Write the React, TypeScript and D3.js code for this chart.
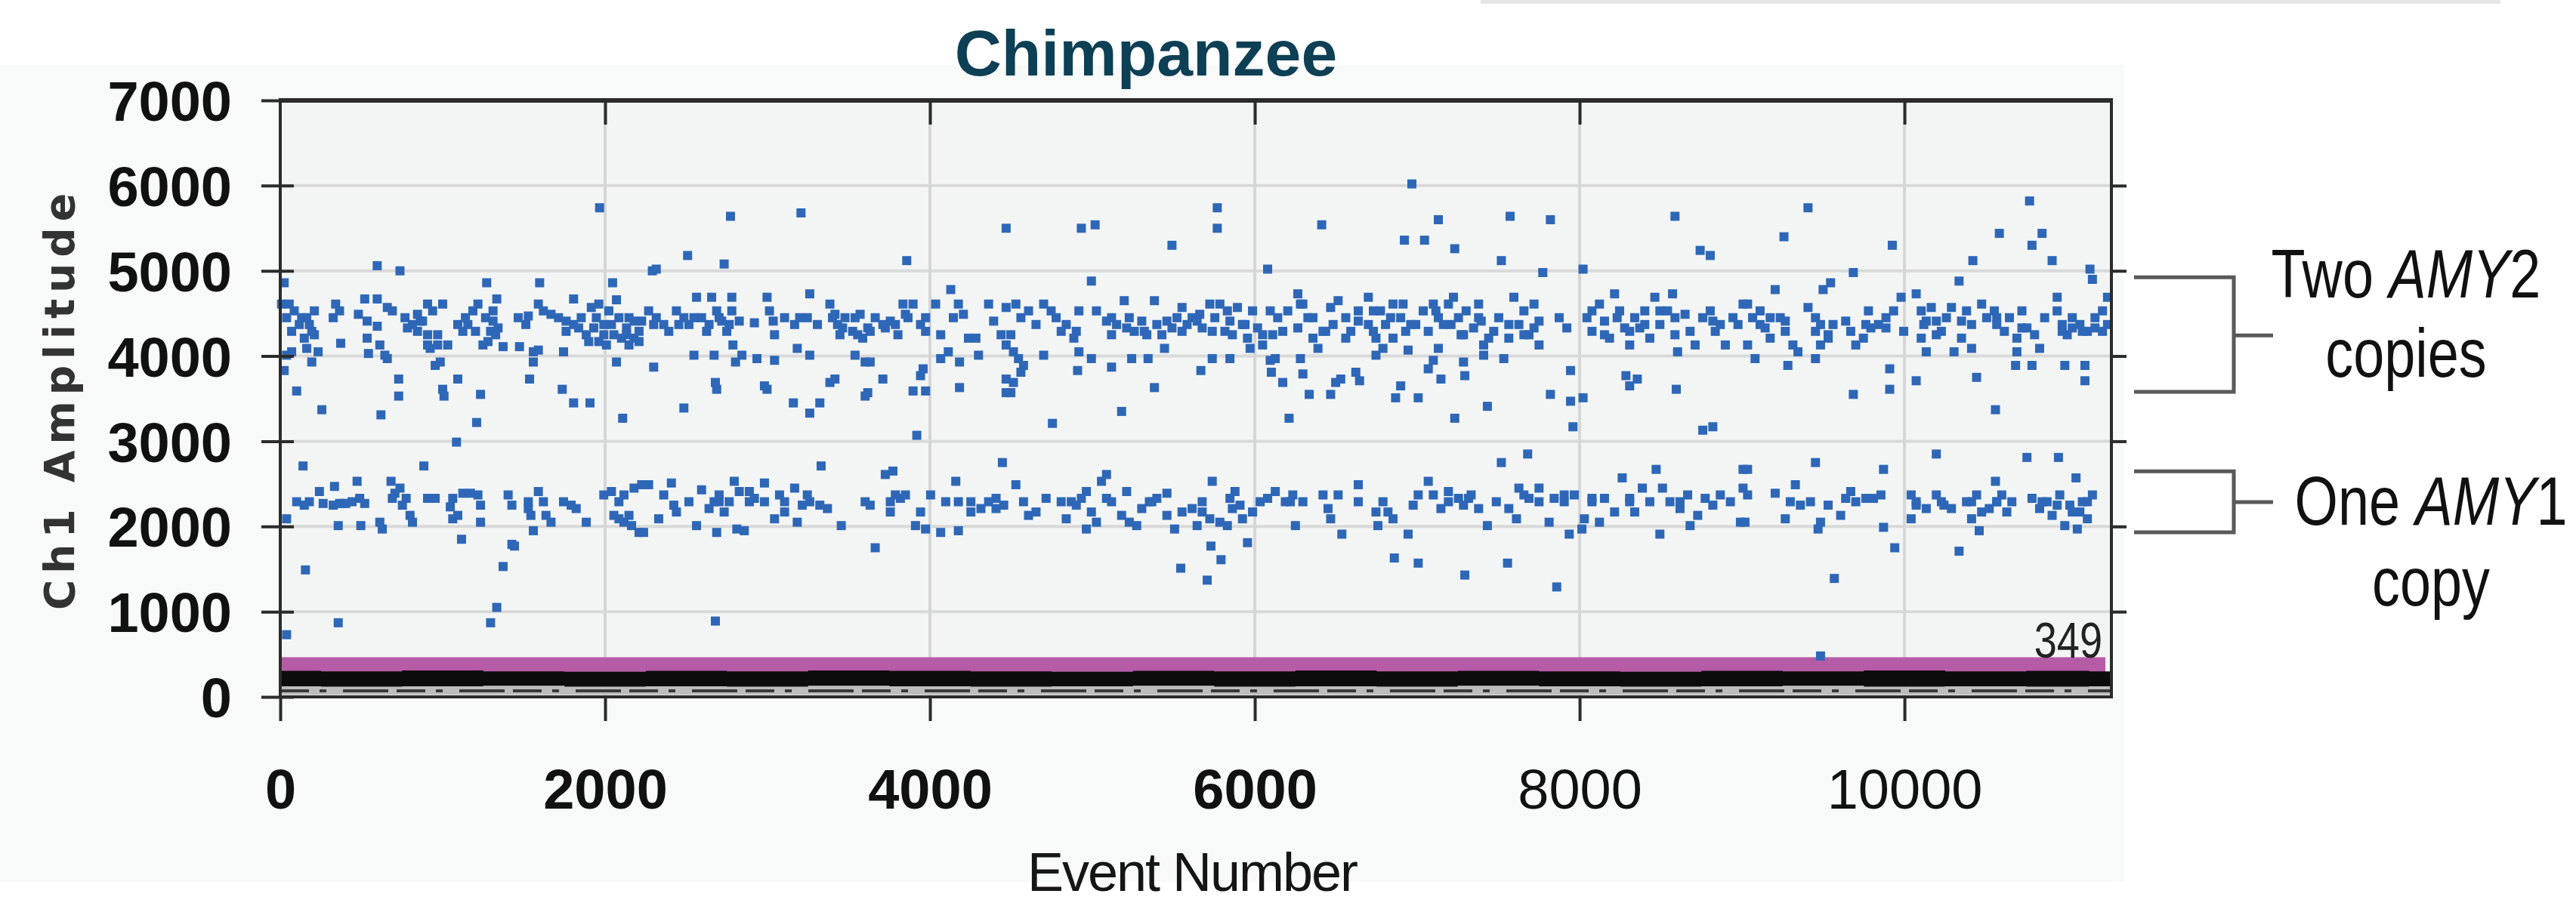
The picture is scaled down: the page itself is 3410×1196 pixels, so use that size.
import { useRef, useEffect } from 'react';
import * as d3 from 'd3';

const W = 3410;
const H = 1196;

const X_TICKS = [0, 2000, 4000, 6000, 8000, 10000];
const Y_TICKS = [0, 1000, 2000, 3000, 4000, 5000, 6000, 7000];
const X_MAX = 11274;
const Y_MAX = 7000;
const THRESHOLD = 349;

// positive droplets, AMY2 cluster + rain above/below it  [event, amplitude]
const dropsHigh: [number, number][] = [
  [1966,5740],[597,5060],[737,5000],[1271,4860],[1597,4860],[2046,4860],
  [24,4860],[8,4610],[39,4450],[86,4530],[117,4370],[163,4450],[194,4290],[210,4530],[148,4210],[163,4090],[70,4050],[39,4010],
  [24,3830],[101,3590],[194,3930],[233,4050],[256,3370],
  [341,4610],[326,4450],[365,4530],[372,4150],
  [481,4490],[520,4670],[597,4670],[535,4410],[597,4350],[659,4570],[690,4530],
  [535,4210],[543,4030],[613,4130],[644,4010],[659,3970],
  [729,3730],[729,3530],[620,3310],
  [768,4450],[814,4370],[861,4410],[907,4610],[845,4290],[907,4250],[923,4090],[969,4130],[1031,4130],[1000,4610],[938,4530],[954,3890],[985,3930],
  [1000,3610],[1008,3530],[1093,3730],
  [1233,3550],[1209,3220],[1085,2990],
  [1093,4370],[1140,4450],[1186,4530],[1217,4610],[1124,4290],[1264,4450],[1310,4410],[1333,4670],[1295,4290],[1341,4330],[1248,4130],[1279,4170],[1372,4110],[1473,4110],
  [1465,4450],[1512,4370],[1527,4470],
  [1558,4050],[1589,4070],[1558,3930],[1535,3730],
  [1589,4610],[1620,4530],[1667,4490],[1713,4450],[1760,4410],[1806,4670],[1806,4370],[1760,4290],[1837,4330],[1884,4250],[1915,4570],[1961,4610],[1946,4450],[1992,4370],[2023,4530],[2070,4660],[2085,4450],[2132,4330],[2178,4410],[2209,4290],[2209,4170],[2147,4130],[2101,4210],[1961,4170],[2054,4250],
  [1744,4050],[1736,3610],[1806,3450],[1907,3450],[2070,3930],[2108,3270],

  [2772,5640],[3206,5680],[4469,5500],[2508,5180],[2733,5080],[3857,5120],[2291,5000],[2315,5020],
  [2268,4530],[2315,4450],[2361,4370],[2392,4290],[2439,4530],[2485,4450],[2516,4370],[2563,4690],[2594,4450],[2640,4370],[2656,4690],[2687,4530],[2718,4410],[2749,4290],[2780,4690],[2780,4530],[2826,4410],[2919,4390],[2997,4690],[3012,4530],[3035,4410],[3043,4250],[3105,4450],[3167,4370],[3198,4450],[3260,4730],[3245,4450],[3307,4370],[3384,4610],[3415,4490],[3431,4370],[3446,4250],[3477,4450],[3524,4290],[3539,4450],[3570,4490],[3586,4210],[3617,4330],[3663,4450],[3710,4370],[3756,4410],[3803,4250],[3834,4610],[3865,4450],[3896,4610],[3942,4370],[3973,4290],[4035,4610],[4066,4250],[4128,4780],[4175,4610],[4206,4490],[4144,4450],[4283,4210],[4361,4610],[4392,4410],[4438,4250],[4469,4130],[4469,4570],
  [2547,4010],[2671,4010],[2787,4130],[2803,3930],[2842,4010],[2935,3970],[3043,3950],[3183,4090],[3260,4010],[2299,3870],[3539,4010],[3601,3930],[3632,3930],[3958,3850],[4066,3970],[4113,4050],[4182,3930],[4299,4010],[4237,4210],
  [2679,3690],[2687,3610],[2981,3650],[2997,3610],[2485,3390],[3159,3450],[3260,3330],[3322,3450],[3384,3690],[3415,3730],[3617,3570],[3601,3530],[3710,3730],[3896,3590],[3973,3590],[3942,3770],[4182,3630],[4469,3570],[4469,3730],[3919,3070],

  [4932,5500],[5017,5540],[5490,5300],[5769,5740],[5769,5500],[6412,5540],[4994,4880],[6079,5020],
  [4529,4610],[4560,4450],[4607,4530],[4653,4370],[4700,4610],[4746,4530],[4777,4450],[4808,4290],[4839,4370],[4886,4210],[4917,4530],[4917,4050],[4901,4290],
  [4498,4250],[4514,4050],[4545,3970],[4576,3890],[4560,3810],[4514,3690],[4498,3570],[4700,4010],
  [5025,4530],[5087,4410],[5118,4250],[5149,4370],[5196,4650],[5227,4450],[5258,4290],[5304,4410],[5335,4250],[5382,4650],[5397,4370],[5428,4250],[5444,4090],[5490,4330],[5521,4450],[5552,4570],[5583,4370],[5614,4450],[5661,4490],[5676,4330],[5723,4610],[5754,4450],[5785,4610],[5816,4290],[5847,4410],[5893,4570],[5924,4370],[5955,4210],[5971,4090],[5986,4530],[6017,4330],[6048,4250],[6095,4530],[6141,4450],[6172,4290],[6203,4530],[6265,4730],[6296,4610],[6265,4330],[6327,4450],[6358,4210],[6389,4090],[6436,4290],[6467,4570],[6513,4650],[6560,4450],[6591,4290],[6637,4410],[6699,4690],[6730,4530],[6730,4290],
  [4994,3970],[4909,3830],[5118,3870],[5242,3970],[5343,3970],[5382,3630],[5668,3830],[5738,3970],[5847,3970],[6095,3950],[6102,3810],[6126,3970],[6172,3690],[6281,3970],[6296,3790],[6335,3550],[6467,3550],[6498,3690],[6529,3730],[6622,3810],[6645,3710],[6746,4010],
  [5180,3350],[4754,3210],[6211,3270],

  [6967,6020],[7130,5600],[6921,5360],[7045,5360],[7231,5260],[7572,5640],[7820,5600],[8587,5640],[8742,5240],[8804,5180],[7518,5120],[7773,4980],[8021,5020],
  [6774,4530],[6805,4370],[6851,4610],[6898,4450],[6929,4290],[6913,4610],[6851,4210],[6789,4090],[6944,4070],
  [6991,4370],[7037,4530],[7068,4290],[7099,4610],[7130,4450],[7161,4370],[7192,4610],[7223,4690],[7254,4450],[7270,4250],[7301,4530],[7347,4330],[7378,4610],[7394,4410],[7409,4130],[7409,4010],[7471,4290],[7502,4450],[7533,3970],[7564,4210],[7595,4690],[7626,4370],[7657,4530],[7688,4250],[7719,4610],[7750,4410],[7750,4130],
  [7874,4450],[7921,4330],
  [8045,4450],[8076,4290],[8122,4610],[8153,4410],[8184,4210],[8215,4730],[8246,4530],[8277,4330],[8308,4130],[8339,4450],[8370,4330],[8401,4530],[8432,4210],[8463,4690],[8494,4370],[8541,4530],[8572,4730],[8587,4250],[8603,4050],[8649,4490],[8680,4290],[8711,4130],[8758,4450],[8804,4530],[8835,4290],[8866,4370],[8897,4130],[8944,4450],[8975,4370],[9006,4610],
  [7130,4090],[7099,3950],[7068,3850],[7146,3730],[7285,3930],[7293,3770],
  [6898,3650],[6867,3510],[7006,3510],
  [7432,3410],[7231,3270],
  [7944,3830],[7820,3550],[7944,3470],[8021,3510],[7959,3170],
  [8285,3770],[8355,3730],[8308,3650],
  [8595,3610],
  [8758,3130],[8820,3170],

  [9406,5740],[9258,5400],[9925,5300],[10770,5820],[10584,5440],[10847,5440],[10785,5300],[10421,5120],[10909,5120],[9685,4980],[10336,4880],[11142,5020],[11157,4900],
  [9034,4610],[9065,4450],[9111,4530],[9142,4330],[9173,4210],[9204,4780],[9235,4450],[9266,4290],[9313,4130],[9344,4050],[9080,3970],[9034,4130],
  [9406,4570],[9452,4450],[9483,4370],[9499,4780],[9545,4860],[9530,4210],[9483,4130],[9452,3970],[9530,4250],
  [9638,4410],[9669,4290],[9700,4130],[9747,4210],[9778,4530],[9793,4330],[9840,4370],[9886,4450],[9933,4530],[9979,4690],[9995,4290],
  [10072,4730],[10103,4530],[10119,4370],[10103,4210],[10134,4050],[10165,4570],[10196,4410],[10227,4290],[10258,4450],[10289,4570],[10305,4050],[10351,4210],[10382,4530],[10413,4370],[10413,4090],[10475,4610],[10506,4450],[10553,4530],[10568,4370],[10615,4290],[10646,4450],[10692,4210],[10692,4050],[10723,4530],[10754,4330],[10801,4250],[10832,4090],[10863,4450],[10940,4690],[10940,4530],[10971,4370],[11002,4250],[11033,4450],[11080,4370],[11126,4290],[11173,4450],[11219,4530],[11250,4370],[11250,4690],
  [9282,3890],[9909,3850],[9909,3610],[10072,3710],[9685,3550],[10444,3750],[10560,3370],[10684,3890],[10785,3890],[10987,3890],[11111,3890],[11111,3710],
];

// positive droplets, AMY1 cluster + rain  [event, amplitude]
const dropsLow: [number, number][] = [
  [140,2710],[884,2710],[39,2090],
  [101,2290],[148,2250],[179,2290],[241,2410],[264,2270],[334,2470],[326,2250],[365,2270],[380,2270],[403,2270],[473,2530],[489,2330],[520,2270],[357,2010],[496,2010],[613,2050],[628,1970],
  [682,2530],[706,2390],[737,2450],[690,2330],[752,2250],[799,2130],[814,2050],[775,2330],[907,2330],[954,2330],
  [1047,2230],[1062,2090],[1093,2130],[1124,2390],[1171,2390],[1217,2370],[1233,2250],[1233,2050],[1116,1850],
  [1403,2370],[1426,2250],[1426,1790],[1442,1770],[1372,1530],
  [1527,2290],[1543,2130],[1589,2410],[1620,2290],[1636,2130],[1667,2050],[1558,1950],[1744,2290],[1791,2250],[1822,2210],[1884,2050],
  [1992,2370],[2039,2410],[2085,2290],[2116,2370],[2178,2450],[2225,2490],[2054,2130],[2116,2050],[2163,2010],[2209,1930],[2085,2090],
  [155,1490],[357,870],[39,730],[1333,1050],[1295,870],

  [3330,2710],[4446,2750],
  [2268,2490],[2330,2090],[2361,2370],[2408,2510],[2423,2250],[2439,2170],[2516,2290],[2563,2010],[2594,2430],[2640,2210],[2671,2290],[2687,1930],[2702,2370],[2733,2170],[2764,2290],[2795,2530],[2811,1970],[2857,1950],[2826,2410],[2888,2410],[2919,2330],[2981,2510],[2981,2290],[3043,2090],[3074,2370],[3105,2290],[3167,2450],[3183,2050],[3214,2250],[3260,2290],[3322,2250],[3369,2210],[3454,2010],[3601,2290],[3632,2250],[3663,1750],[3725,2610],[3772,2650],[3756,2170],[3787,2370],[3849,2370],[3911,2010],[3942,2170],[3973,1970],[4004,2370],[4066,1930],[4097,2290],[4159,2530],[4175,1950],[4175,2290],[4252,2170],[4314,2210],[4361,2290],[4407,2330],[4454,2250],[2237,1930],
  [2679,890],

  [4529,2490],[4576,2290],[4607,2130],[4653,2170],[4715,2330],[4808,2290],[4839,2090],[4870,2290],[4932,2330],[4963,2410],[4994,2170],[4963,1970],[5025,2050],[5056,2530],[5087,2610],[5118,2290],[5211,2410],[5180,2130],[5227,2050],[5273,2010],[5304,2210],[5351,2290],[5397,2330],[5459,2390],[5459,2130],[5506,1970],[5552,2170],[5614,2210],[5645,2010],[5676,2290],[5723,2090],[5738,2530],[5785,2050],[5831,2010],[5847,2330],[5878,2410],[5909,2250],[5924,2090],[5986,2170],[6033,2290],[6079,2330],[6126,2410],[6188,2290],[6234,2370],[6250,2010],[6296,2290],[6420,2370],[6451,2210],[6467,2090],[6513,2370],[6637,2490],[6637,2290],[6746,2170],
  [6536,1910],[5955,1810],[5730,1770],[5792,1610],[5544,1510],[5707,1370],

  [7518,2750],[7680,2850],[8471,2670],[9006,2670],
  [6789,2290],[6851,2090],[6820,2170],[6758,2010],[6944,1910],[6975,2250],[7006,2370],[7068,2530],[7099,2370],[7146,2210],[7192,2410],[7254,2330],[7285,2250],[7332,2370],[7378,2210],[7432,2010],[7487,2290],[7564,2210],[7611,2090],[7626,2450],[7688,2330],[7750,2450],[7812,2050],[7843,2330],[7905,2290],[7936,1910],[7967,2370],[8014,1970],[8029,2090],[8076,2290],[8122,2050],[8153,2330],[8215,2170],[8262,2570],[8308,2330],[8339,2170],[8386,2450],[8432,2290],[8494,1910],[8510,2450],[8556,2290],[8618,2210],[8665,2370],[8680,2010],[8727,2130],[8820,2250],[8866,2370],[8928,2290],[8990,2050],[9006,2450],
  [6859,1630],[7006,1570],[7293,1430],[7556,1570],[7859,1290],

  [9452,2750],[10196,2850],[10754,2810],[10948,2810],[9871,2670],[11056,2570],[10560,2530],[9034,2670],
  [9034,2370],[9018,2050],[9204,2390],[9266,2090],[9297,2290],[9328,2490],[9359,2250],[9421,2290],[9468,1970],[9483,2050],[9530,2250],[9607,2130],[9638,2330],[9669,2410],[9700,2290],[9762,2330],[9809,2330],[9855,2370],[9871,1990],[9940,1750],
  [10041,2370],[10072,2250],[10041,2090],[10134,2210],[10196,2370],[10243,2250],[10289,2210],[10382,2290],[10413,2090],[10444,2370],[10460,1950],[10475,2170],[10522,2210],[10568,2290],[10599,2370],[10630,2170],[10661,2290],[10785,2330],[10832,2210],[10878,2290],[10909,2130],[10956,2370],[10987,2010],[11018,2250],[11064,1970],[11080,2170],[11126,2290],[11126,2090],[11157,2370],
  [10336,1710],[9568,1390],[9483,480],
];

// extra droplets where the clusters are packed solid
const dropsDense: [number, number][] = [
  [1853,4450],[1930,4330],[1992,4250],[2039,4370],[2132,4250],[2178,4210],[2225,4410],[2147,4450],[1899,4170],[2008,4130],
  [55,4610],[132,4450],[179,4370],[70,4290],[210,4250],
  [783,4330],[876,4410],[969,4250],[907,4130],[845,4490],
  [1155,4370],[1202,4290],[1310,4530],[1326,4250],
  [442,2290],[1062,2330],[1527,2210],[2147,2130],
  [2299,4370],[2454,4370],[2547,4450],[2625,4290],[2702,4450],[2764,4370],
  [3400,4450],[3462,4330],[3555,4250],[3632,4290],[3725,4330],[3787,4370],[3849,4490],[3973,4450],
  [2702,2290],[2888,2290],[3105,2170],[3245,2370],[3756,2290],[3818,2330],[4252,2290],[4407,2210],
  [5118,4450],[5211,4330],[5320,4290],[5459,4410],[5552,4290],[5645,4410],[5738,4290],[5831,4530],[5862,4250],[5940,4370],[6048,4130],[6110,4250],
  [6281,4610],[6358,4450],[6420,4290],[6482,4370],[6560,4210],[6637,4530],[6699,4370],[6746,4210],
  [4901,2250],[5087,2330],[5366,2290],[5676,2170],[5862,2210],[6219,2290],
  [6836,4450],[6960,4370],[7115,4530],[7208,4370],[7285,4250],[7378,4450],[7440,4210],[7564,4370],[7657,4250],[7719,4330],
  [8076,4530],[8153,4250],[8231,4450],[8308,4290],[8401,4370],[8494,4530],[8587,4450],[8820,4410],
  [7192,2290],[7316,2330],[7657,2370],[7750,2290],[7905,2370],[8076,2330],[8308,2290],[8618,2290],[8773,2330],
  [9111,4370],[9173,4450],[9266,4410],[9452,4290],[9560,4370],[9762,4370],[9886,4330],[10134,4410],[10196,4250],[10351,4410],
  [10568,4450],[10723,4330],[10971,4290],[11033,4330],[11095,4290],[11173,4330],[11219,4290],
  [10072,2290],[10227,2290],[10413,2290],[10568,2290],[10847,2290],[10940,2250],[11033,2170],[11095,2290],
];

// negative droplets: the dense band under the threshold
const negEvents = [0, 500, 1000, 1500, 2000, 2500, 3000, 3500, 4000, 4500, 5000, 5500, 6000, 6500, 7000, 7500, 8000, 8500, 9000, 9500, 10000, 10500, 11000, 11274];
const negHigh = [305, 300, 310, 300, 295, 305, 300, 310, 305, 300, 295, 305, 300, 310, 300, 305, 300, 295, 305, 300, 310, 300, 305, 300];
const negLow = [125, 120, 125, 130, 120, 125, 120, 130, 125, 120, 125, 130, 120, 125, 120, 130, 125, 120, 125, 130, 120, 125, 120, 125];

const BRACKETS = [
  { top: 4925, bottom: 3580, mid: 4243, name: 'Two ', gene: 'AMY', num: '2', sub: 'copies' },
  { top: 2648, bottom: 1931, mid: 2285, name: 'One ', gene: 'AMY', num: '1', sub: 'copy' },
];

export default function App() {
  const ref = useRef<SVGSVGElement>(null);

  useEffect(() => {
    const svg = d3.select(ref.current);
    svg.selectAll('*').remove();

    const m = { top: 133, left: 371, right: 2795, bottom: 923 };
    const x = d3.scaleLinear().domain([0, X_MAX]).range([m.left, m.right]);
    const y = d3.scaleLinear().domain([0, Y_MAX]).range([m.bottom, m.top]);
    const frame = '#2b2b2b';
    const sans = "'Liberation Sans', Arial, sans-serif";

    svg.append('rect').attr('width', W).attr('height', H).attr('fill', '#fff');
    svg.append('rect').attr('x', 1960).attr('y', 0).attr('width', 1350).attr('height', 5).attr('fill', '#e6e6e6');
    svg.append('rect').attr('x', 0).attr('y', 86).attr('width', 2812).attr('height', 1082).attr('fill', '#f8f9f9');
    svg.append('rect').attr('x', m.left).attr('y', m.top).attr('width', m.right - m.left).attr('height', m.bottom - m.top).attr('fill', '#f3f5f5');

    // ── grid ─────────────────────────────────────────────────────
    const grid = svg.append('g');
    grid.selectAll('.gy').data(Y_TICKS.slice(1, -1)).join('line')
      .attr('x1', m.left).attr('x2', m.right).attr('y1', d => y(d)).attr('y2', d => y(d))
      .attr('stroke', '#d9d9d9').attr('stroke-width', 4);
    grid.selectAll('.gx').data(X_TICKS.slice(1)).join('line')
      .attr('x1', d => x(d)).attr('x2', d => x(d)).attr('y1', m.top).attr('y2', m.bottom)
      .attr('stroke', '#d6d6d6').attr('stroke-width', 4);

    // ── threshold + negative droplets ────────────────────────────
    svg.append('line')
      .attr('x1', m.left).attr('x2', m.right - 8).attr('y1', y(THRESHOLD)).attr('y2', y(THRESHOLD))
      .attr('stroke', '#b65ba6').attr('stroke-width', 26);

    const neg = negEvents.map((e, i) => ({ e, hi: negHigh[i], lo: negLow[i] }));
    svg.append('path').datum(neg)
      .attr('d', d3.area<any>().x(d => x(d.e)).y0(() => y(25)).y1(d => y(d.lo)).curve(d3.curveStep))
      .attr('fill', '#bdbdbd');
    svg.append('line')
      .attr('x1', m.left).attr('x2', m.right).attr('y1', y(70)).attr('y2', y(70))
      .attr('stroke', '#3a3a3a').attr('stroke-width', 4).attr('stroke-dasharray', '38 14 9 22 60 11');
    svg.append('path').datum(neg)
      .attr('d', d3.area<any>().x(d => x(d.e)).y0(d => y(d.lo)).y1(d => y(d.hi)).curve(d3.curveStep))
      .attr('fill', '#0c0c0c');

    // ── positive droplets ────────────────────────────────────────
    const s = 12;
    svg.append('g').selectAll('rect').data([...dropsHigh, ...dropsLow, ...dropsDense]).join('rect')
      .attr('x', d => x(d[0]) - s / 2).attr('y', d => y(d[1]) - s / 2)
      .attr('width', s).attr('height', s).attr('fill', '#2e67b7');

    // narrow labels: Liberation Sans squeezed horizontally
    const narrowText = (cx: number, by: number, size: number, anchor: string) =>
      svg.append('text').attr('transform', `translate(${cx},${by}) scale(0.82,1)`)
        .attr('text-anchor', anchor).attr('font-family', sans).attr('font-size', size).attr('fill', '#111');

    narrowText(m.right - 12, y(THRESHOLD) - 13, 66, 'end').attr('fill', '#222').text(String(THRESHOLD));

    // ── frame + axes ─────────────────────────────────────────────
    const fmt = d3.format('d');
    const ax = svg.append('g').attr('transform', `translate(0,${m.bottom})`)
      .call(d3.axisBottom(x).tickValues(X_TICKS).tickSize(32).tickSizeOuter(0).tickFormat(fmt as any));
    ax.select('.domain').remove();
    ax.selectAll('.tick line').attr('stroke', frame).attr('stroke-width', 4);
    ax.selectAll('.tick text').attr('y', 148).attr('dy', null)
      .attr('font-family', sans).attr('font-size', 74)
      .attr('font-weight', (d: any) => (d > 6000 ? 400 : 700)).attr('fill', '#111');

    const axTop = svg.append('g').attr('transform', `translate(0,${m.top})`)
      .call(d3.axisBottom(x).tickValues(X_TICKS.slice(1)).tickSize(32).tickFormat(() => ''));
    axTop.select('.domain').remove();
    axTop.selectAll('.tick line').attr('stroke', frame).attr('stroke-width', 4);

    const ay = svg.append('g').attr('transform', `translate(${m.left},0)`)
      .call(d3.axisLeft(y).tickValues(Y_TICKS).tickSize(25).tickSizeOuter(0).tickFormat(fmt as any));
    ay.select('.domain').remove();
    ay.selectAll('.tick line').attr('x1', 18).attr('x2', -25).attr('stroke', frame).attr('stroke-width', 4);
    ay.selectAll('.tick text').attr('x', -64).attr('dy', '0.36em')
      .attr('font-family', sans).attr('font-size', 74).attr('font-weight', 700).attr('fill', '#111');

    const ayR = svg.append('g').attr('transform', `translate(${m.right},0)`)
      .call(d3.axisLeft(y).tickValues(Y_TICKS.slice(1, -1)).tickSize(-20).tickFormat(() => ''));
    ayR.select('.domain').remove();
    ayR.selectAll('.tick line').attr('stroke', frame).attr('stroke-width', 4);

    svg.append('line').attr('x1', m.left - 2).attr('x2', m.right + 2).attr('y1', m.top).attr('y2', m.top)
      .attr('stroke', frame).attr('stroke-width', 6);
    svg.append('line').attr('x1', m.left - 2).attr('x2', m.right + 2).attr('y1', m.bottom).attr('y2', m.bottom)
      .attr('stroke', frame).attr('stroke-width', 4);
    svg.append('line').attr('x1', m.left).attr('x2', m.left).attr('y1', m.top).attr('y2', m.bottom)
      .attr('stroke', frame).attr('stroke-width', 4);
    svg.append('line').attr('x1', m.right).attr('x2', m.right).attr('y1', m.top).attr('y2', m.bottom)
      .attr('stroke', frame).attr('stroke-width', 4);

    // ── titles ───────────────────────────────────────────────────
    svg.append('text').attr('x', 1517).attr('y', 100).attr('text-anchor', 'middle')
      .attr('font-family', sans).attr('font-weight', 700)
      .attr('font-size', 86).attr('fill', '#0d3f55').text('Chimpanzee');

    svg.append('text').attr('x', 1578).attr('y', 1180).attr('text-anchor', 'middle')
      .attr('font-family', sans).attr('font-size', 72)
      .attr('letter-spacing', -2).attr('fill', '#151515').text('Event Number');

    svg.append('text').attr('transform', `translate(98,${(m.top + m.bottom) / 2}) rotate(-90)`)
      .attr('text-anchor', 'middle').attr('font-family', "'DejaVu Sans', Verdana, sans-serif")
      .attr('font-weight', 700).attr('font-size', 55).attr('letter-spacing', 8)
      .attr('fill', '#333').text('Ch1 Amplitude');

    // ── brackets on the right ────────────────────────────────────
    const bx0 = 2825, bx1 = 2957, bx2 = 3009;
    const textX = [3185, 3218];
    const lineDy = [[-50, 55], [30, 137]];
    BRACKETS.forEach((b, i) => {
      svg.append('path')
        .attr('d', `M${bx0},${y(b.top)}H${bx1}V${y(b.bottom)}H${bx0}M${bx1},${y(b.mid)}H${bx2}`)
        .attr('fill', 'none').attr('stroke', '#595959').attr('stroke-width', 5);
      const t1 = narrowText(textX[i], y(b.mid) + lineDy[i][0], 90, 'middle');
      t1.append('tspan').text(b.name);
      t1.append('tspan').attr('font-style', 'italic').text(b.gene);
      t1.append('tspan').text(b.num);
      narrowText(textX[i], y(b.mid) + lineDy[i][1], 90, 'middle').text(b.sub);
    });
  }, []);

  return (
    <div style={{ position: 'absolute', left: 0, top: 0 }}>
      <svg ref={ref} width={W} height={H} style={{ display: 'block' }} />
    </div>
  );
}
